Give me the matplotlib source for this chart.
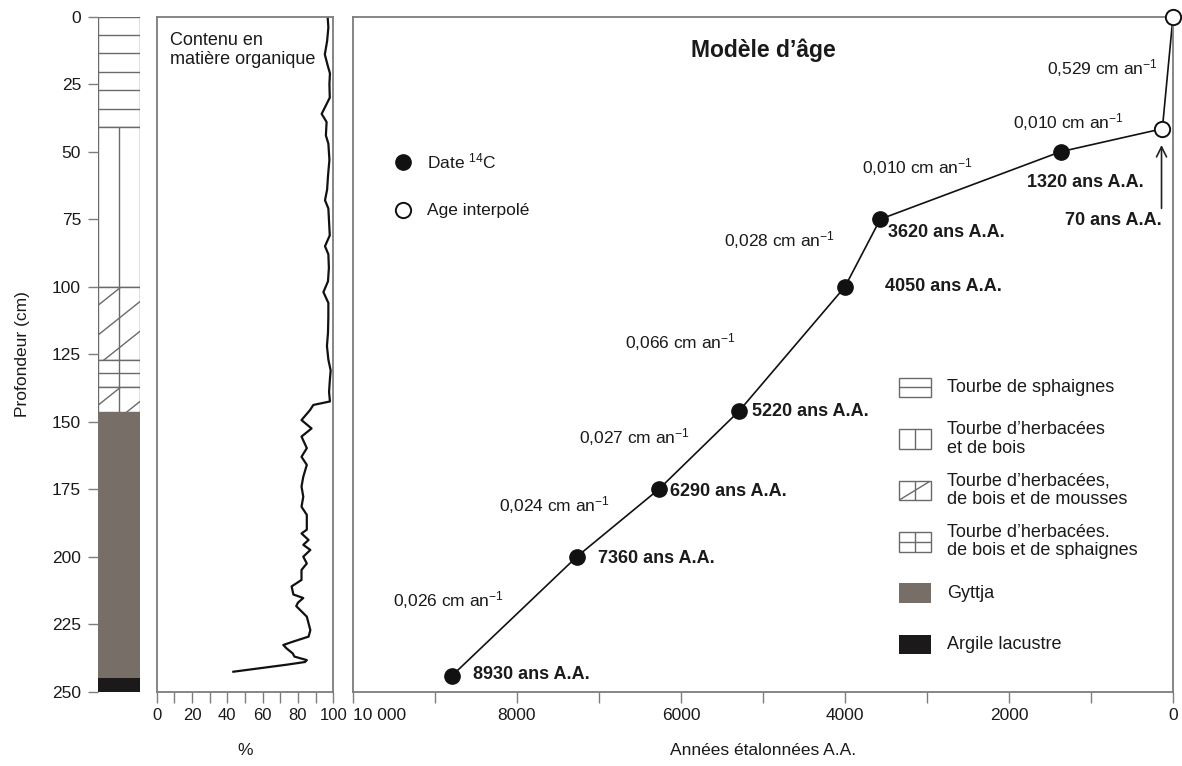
import numpy as np
import matplotlib.pyplot as plt
from matplotlib.patches import Rectangle

# ---------------- data ----------------
depth_ticks = [0, 25, 50, 75, 100, 125, 150, 175, 200, 225, 250]

# stratigraphy (cm)
layer_top = [0, 41, 100, 127, 137, 146.5, 245]
layer_bot = [41, 100, 127, 137, 146.5, 245, 250]
layer_kind = ['sph', 'hb', 'hbm', 'hbs', 'hbm', 'gyttja', 'argile']

# organic matter content (%)
om_depth = [0, 4, 9, 14, 18, 21, 25, 30, 36, 39, 44, 47, 53, 59, 64, 68, 71, 76,
            81, 85, 88, 93, 98, 102, 106, 111, 117, 122, 127, 131, 135, 139,
            142.5, 143.8, 145.7, 149.4, 152.5, 155.5, 159.8, 163, 166, 170.4,
            174, 177.8, 181.5, 184.5, 190, 191.4, 193.8, 195.6, 197.5, 200,
            202.5, 204.9, 208.6, 211, 214, 215.3, 217, 218.3, 222.2, 227.2,
            229.6, 231.5, 232.7, 234, 235.8, 237, 238.3, 239, 240, 242.6]
om_value = [96.8, 97.2, 96.5, 95.2, 96.8, 98.1, 97.8, 98.0, 93.4, 96.2, 95.8,
            97.2, 97.8, 97.0, 96.5, 95.3, 97.2, 97.6, 98.0, 95.3, 97.2, 97.5,
            97.0, 94.4, 97.2, 97.2, 97.0, 96.4, 97.2, 98.5, 98.0, 97.6, 98.1,
            88.7, 86.8, 82, 87.7, 82, 85, 82, 85, 83, 82, 83, 82, 85, 85, 82,
            86, 83, 87, 83, 85, 82, 82, 76.4, 77.4, 83, 80, 79, 85, 87, 86, 77,
            71.7, 73.6, 77, 78, 85, 84, 73.6, 43.4]
om_ticks = [0, 10, 20, 30, 40, 50, 60, 70, 80, 90, 100]
om_ticklabels = ['0', '', '20', '', '40', '', '60', '', '80', '', '100']

# age model (positions)
age_interp = [0, 130]
depth_interp = [0, 41.5]
age_c14 = [1370, 3570, 4000, 5290, 6270, 7270, 8790]
depth_c14 = [50, 75, 100, 146, 175, 200, 244]
age_ticks = [10000, 9000, 8000, 7000, 6000, 5000, 4000, 3000, 2000, 1000, 0]
age_ticklabels = ['10 000', '', '8000', '', '6000', '', '4000', '', '2000', '', '0']

rate_text = ['0,529', '0,010', '0,010', '0,028', '0,066', '0,027', '0,024', '0,026']
rate_age = [1539, 1954, 3790, 5472, 6679, 7240, 8214, 9518]
rate_depth = [19.1, 38.9, 55.7, 82.7, 120.5, 155.7, 181, 216]

date_text = ['70', '1320', '3620', '4050', '5220', '6290', '7360', '8930']
date_age = [1316, 1778, 3473, 3510, 5131, 6130, 7008, 8531]
date_depth = [75.5, 61.4, 80.1, 100, 146.4, 176, 200.5, 243.8]

legend_labels = ['Tourbe de sphaignes', 'Tourbe d\u2019herbacées\net de bois',
                 'Tourbe d\u2019herbacées,\nde bois et de mousses',
                 'Tourbe d\u2019herbacées.\nde bois et de sphaignes',
                 'Gyttja', 'Argile lacustre']
legend_kind = ['sph', 'hb', 'hbm', 'hbs', 'gyttja', 'argile']

# ---------------- style ----------------
plt.rcParams['font.family'] = ['Liberation Sans', 'DejaVu Sans']
plt.rcParams['mathtext.fontset'] = 'custom'
plt.rcParams['mathtext.rm'] = 'Liberation Sans'
plt.rcParams['mathtext.it'] = 'Liberation Sans:italic'
plt.rcParams['mathtext.bf'] = 'Liberation Sans:bold'

TXT = '#1a1a1a'
GREY = '#7d7d7d'
LINE = '#6a6a6a'
fills = {'gyttja': '#766e67', 'argile': '#1b1919'}

W, H = 1182, 766
fig = plt.figure(figsize=(W / 100, H / 100), dpi=100)


def box(x0, x1, ytop, ybot):
    return [x0 / W, 1 - ybot / H, (x1 - x0) / W, (ybot - ytop) / H]


def draw_pattern(ax, x0, x1, y_low, y_high, kind, trans, diag_step=None):
    # y_low / y_high: bottom and top of the cell as seen on the page
    if kind in fills:
        ax.add_patch(Rectangle((x0, y_low), x1 - x0, y_high - y_low, transform=trans,
                               facecolor=fills[kind], edgecolor='none'))
        return
    rect = Rectangle((x0, y_low), x1 - x0, y_high - y_low, transform=trans,
                     facecolor='white', edgecolor=LINE, lw=1.0)
    ax.add_patch(rect)
    xm = (x0 + x1) / 2
    lines = []
    if kind in ('hb', 'hbm', 'hbs'):
        lines.append(([xm, xm], [y_low, y_high]))
    if kind in ('sph', 'hbs'):
        if diag_step is None:
            ym = (y_low + y_high) / 2
            lines.append(([x0, x1], [ym, ym]))
        else:
            step = 6.8 if kind == 'sph' else 5.0
            for d in np.arange(y_high + step, y_low - 1, step):
                lines.append(([x0, x1], [d, d]))
    if kind == 'hbm':
        if diag_step is None:
            lines.append(([x0, x1], [y_low, y_high]))
        else:
            for d in np.arange(y_high + 7, y_low + 13, diag_step):
                lines.append(([x0, x1], [d, d - 12.5]))
    for xs, ys in lines:
        ln, = ax.plot(xs, ys, color=LINE, lw=1.0, transform=trans)
        ln.set_clip_path(rect)


# ---- stratigraphic column ----
ax_col = fig.add_axes(box(97.7, 140, 16.7, 691.7))
ax_col.set_xlim(0, 1)
ax_col.set_ylim(250, 0)
for top, bot, kind in zip(layer_top, layer_bot, layer_kind):
    draw_pattern(ax_col, 0, 1, bot, top, kind, ax_col.transData, diag_step=11)
for s in ax_col.spines.values():
    s.set_visible(False)
ax_col.set_xticks([])
ax_col.set_yticks(depth_ticks)
ax_col.tick_params(axis='y', length=7, width=1, color=GREY, labelsize=12.5,
                   labelcolor=TXT, pad=5)
ax_col.set_ylabel('Profondeur (cm)', fontsize=12.5, color=TXT, labelpad=16)

# ---- organic matter ----
ax_om = fig.add_axes(box(156.7, 333.3, 16.7, 691.7), sharey=ax_col)
ax_om.plot(om_value, om_depth, color='#111111', lw=1.6)
ax_om.set_xlim(0, 100)
ax_om.set_xticks(om_ticks, om_ticklabels)
ax_om.tick_params(axis='x', length=8, width=1, color=GREY, labelsize=12,
                  labelcolor=TXT, pad=4)
ax_om.tick_params(axis='y', left=False, labelleft=False)
ax_om.set_xlabel('%', fontsize=12.5, color=TXT, labelpad=14)
ax_om.text(0.075, 0.977, 'Contenu en\nmatière organique', transform=ax_om.transAxes,
           fontsize=13, color=TXT, va='top', ha='left', linespacing=1.15)

# ---- age model ----
ax_age = fig.add_axes(box(353, 1173, 16.7, 691.7), sharey=ax_col)
all_age = sorted(age_interp + age_c14)
all_depth = [d for _, d in sorted(zip(age_interp + age_c14, depth_interp + depth_c14))]
ax_age.plot(all_age, all_depth, color='#111111', lw=1.2, zorder=2)
ax_age.plot(age_c14, depth_c14, 'o', ms=11, color='#111111', zorder=3)
ax_age.plot(age_interp, depth_interp, 'o', ms=11, mfc='white', mec='#111111',
            mew=1.4, zorder=4, clip_on=False)
ax_age.set_xlim(10000, 0)
ax_age.set_xticks(age_ticks, age_ticklabels)
ax_age.tick_params(axis='x', length=8, width=1, color=GREY, labelsize=12.5,
                   labelcolor=TXT, pad=4)
ax_age.get_xticklabels()[0].set_horizontalalignment('left')
ax_age.tick_params(axis='y', left=False, labelleft=False)
ax_age.set_xlabel('Années étalonnées A.A.', fontsize=12.5, color=TXT, labelpad=14)

for t, a, d in zip(rate_text, rate_age, rate_depth):
    ax_age.text(a, d, t + ' cm an$^{-1}$', fontsize=12.5, color=TXT,
                ha='left', va='center')
for t, a, d in zip(date_text, date_age, date_depth):
    ax_age.text(a, d, t + ' ans A.A.', fontsize=13, fontweight='bold',
                color=TXT, ha='left', va='center')

ax_age.annotate('', xy=(140, 46.5), xytext=(140, 72),
                arrowprops=dict(arrowstyle='->', color='#222222', lw=1.2,
                                mutation_scale=18))

ax_age.text(0.501, 0.951, 'Modèle d\u2019âge', transform=ax_age.transAxes,
            fontsize=16.5, fontweight='bold', color=TXT, ha='center', va='center')

# symbol legend
ax_age.plot([0.061], [0.785], 'o', ms=11, color='#111111', transform=ax_age.transAxes)
ax_age.plot([0.061], [0.713], 'o', ms=11, mfc='white', mec='#111111', mew=1.4,
            transform=ax_age.transAxes)
ax_age.text(0.090, 0.785, 'Date $^{14}$C', transform=ax_age.transAxes,
            fontsize=12.5, color=TXT, va='center')
ax_age.text(0.090, 0.713, 'Age interpolé', transform=ax_age.transAxes,
            fontsize=12.5, color=TXT, va='center')

# stratigraphy legend
bh = 0.029
for i, (lab, kind) in enumerate(zip(legend_labels, legend_kind)):
    yc = 0.4507 - i * 0.0762
    draw_pattern(ax_age, 0.666, 0.705, yc - bh / 2, yc + bh / 2, kind,
                 ax_age.transAxes)
    ax_age.text(0.724, yc, lab, transform=ax_age.transAxes, fontsize=13,
                color=TXT, va='center', ha='left', linespacing=1.1)

for ax in (ax_om, ax_age):
    for s in ax.spines.values():
        s.set_color(GREY)
        s.set_linewidth(1.3)

fig.savefig('out.png', dpi=100)
